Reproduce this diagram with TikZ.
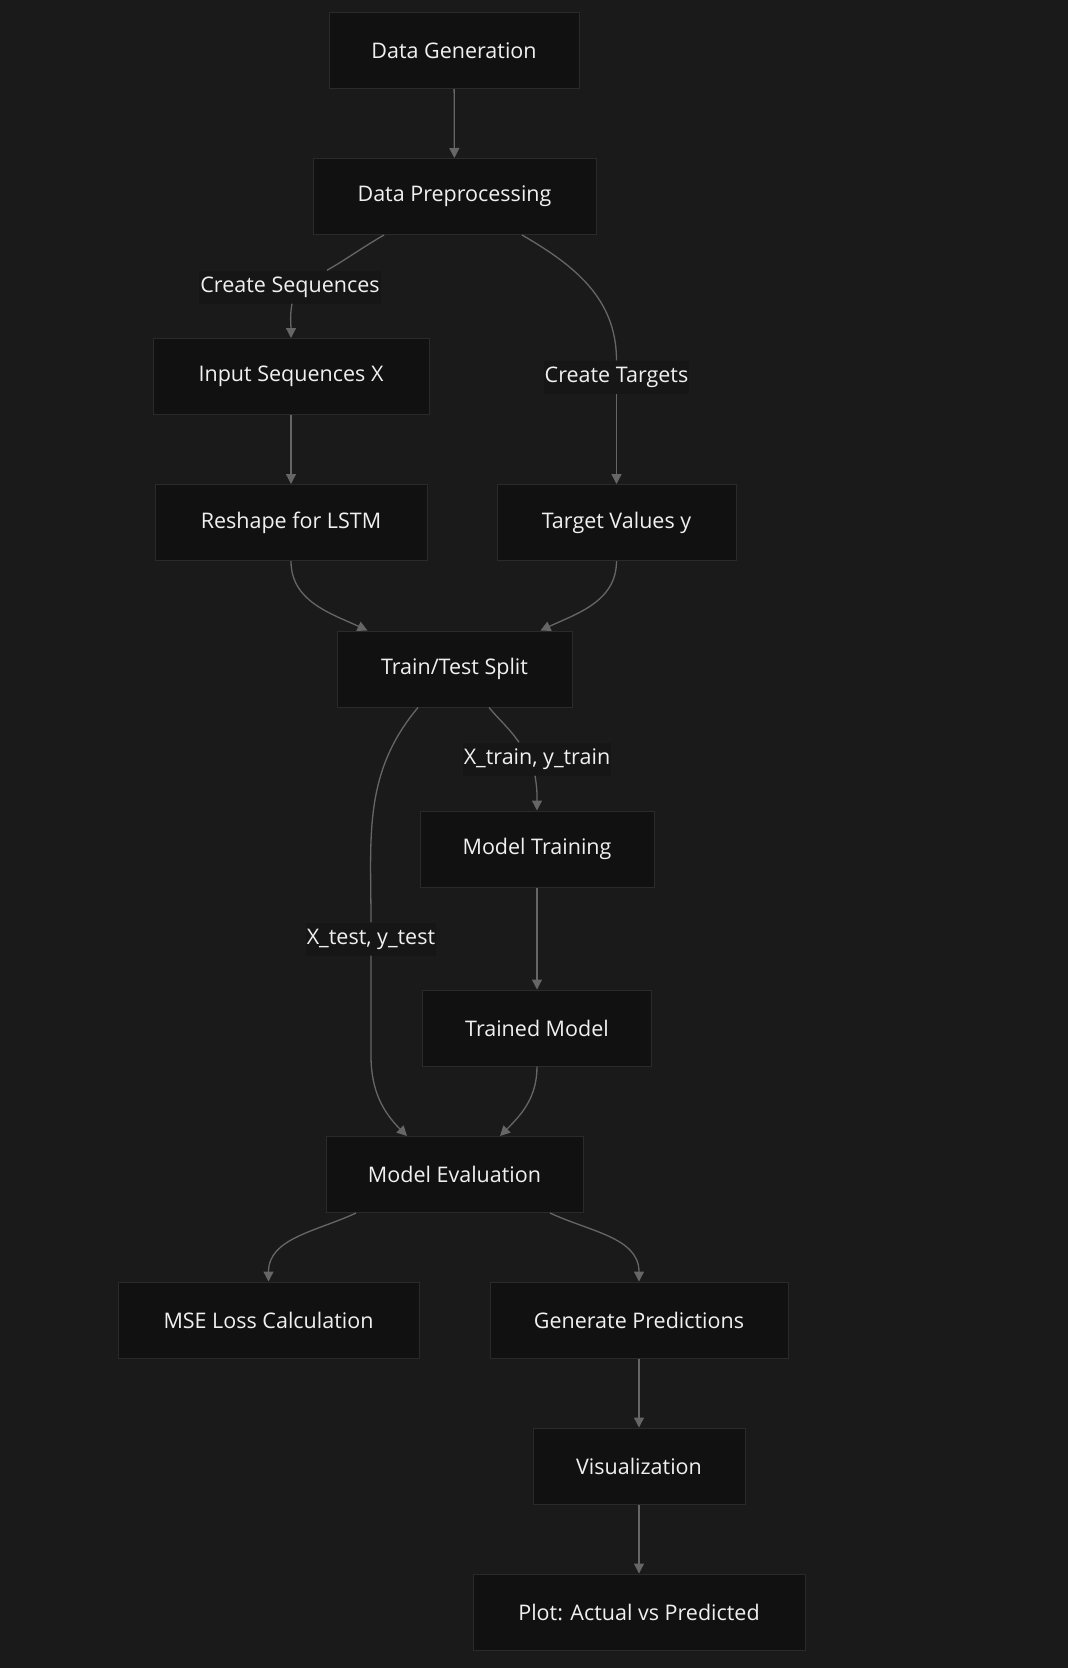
\documentclass[tikz,border=0pt]{standalone}
\usepackage{fontspec}
\setmainfont{Open Sans}
\usetikzlibrary{arrows.meta}

\definecolor{hintergrund}{HTML}{1A1A1A}
\definecolor{kastenfuell}{HTML}{111111}
\definecolor{rahmen}{HTML}{2A2A2A}
\definecolor{linie}{HTML}{666666}
\definecolor{schrift}{HTML}{F0F0F0}
\definecolor{beschrfuell}{HTML}{161616}

\begin{document}
\begin{tikzpicture}[
    x=1pt, y=-1pt,
    kasten/.style={
      rectangle,
      fill=kastenfuell,
      draw=rahmen,
      line width=1pt,
      text=schrift,
      minimum height=76pt,
      font=\fontsize{21.5}{26}\selectfont},
    beschriftung/.style={
      rectangle,
      fill=beschrfuell,
      text=schrift,
      inner xsep=1pt,
      minimum height=33pt,
      font=\fontsize{21.5}{26}\selectfont},
    pfeil/.style={
      draw=linie,
      line width=1.3pt,
      -{Triangle[length=10pt,width=10pt]}},
    linienstueck/.style={
      draw=linie,
      line width=1.3pt}
    ]

  \fill[hintergrund] (0,0) rectangle (1068,1668);
  \useasboundingbox (0,0) rectangle (1068,1668);

  \node at (454,50.5) (knotenGen) [kasten, minimum width=250pt] {Data Generation};
  \node at (454.5,196.5) (knotenPre) [kasten, minimum width=283pt] {Data Preprocessing};

  \node at (291,376.5) (knotenInp) [kasten, minimum width=276pt] {Input Sequences X};
  \node at (291,522.5) (knotenRes) [kasten, minimum width=272pt] {Reshape for LSTM};
  \node at (616.5,522.5) (knotenTgt) [kasten, minimum width=239pt] {Target Values y};

  \node at (454.5,669) (knotenSplit) [kasten, minimum width=235pt] {Train/Test Split};
  \node at (537,849) (knotenTrain) [kasten, minimum width=234pt] {Model Training};
  \node at (537,1028) (knotenTrained) [kasten, minimum width=229pt] {Trained Model};
  \node at (454.5,1174.5) (knotenEval) [kasten, minimum width=257pt] {Model Evaluation};

  \node at (268.5,1320) (knotenMse) [kasten, minimum width=301pt] {MSE Loss Calculation};
  \node at (639,1320) (knotenPred) [kasten, minimum width=298pt] {Generate Predictions};
  \node at (639,1466) (knotenVis) [kasten, minimum width=212pt] {Visualization};
  \node at (639,1612) (knotenPlot) [kasten, minimum width=332pt] {Plot: Actual vs Predicted};

  \node at (290,287) (lblSeq) [beschriftung] {Create Sequences};
  \node at (616.5,377) (lblTgt) [beschriftung] {Create Targets};
  \node at (537,759) (lblTrain) [beschriftung] {X\_train, y\_train};
  \node at (371,939) (lblTest) [beschriftung] {X\_test, y\_test};

  \path [pfeil] (knotenGen) -- (knotenPre);

  \path [linienstueck] ([xshift=-70.5pt]knotenPre.south) to[out=-150,in=30] ([xshift=37pt]lblSeq.north);
  \path [pfeil] ([xshift=2pt]lblSeq.south) to[out=-100,in=90] (knotenInp.north);

  \path [linienstueck] ([xshift=67.5pt]knotenPre.south) to[out=-30,in=90] (lblTgt.north);
  \path [pfeil] (lblTgt) -- (knotenTgt);

  \path [pfeil] (knotenInp) -- (knotenRes);

  \path [pfeil] (knotenRes.south) to[out=-90,in=155] ([xshift=-87pt]knotenSplit.north);
  \path [pfeil] (knotenTgt.south) to[out=-90,in=25] ([xshift=86pt]knotenSplit.north);

  \path [linienstueck] ([xshift=34.5pt]knotenSplit.south) to[out=-50,in=125] ([xshift=-18pt]lblTrain.north);
  \path [pfeil] ([xshift=-2pt]lblTrain.south) to[out=-80,in=90] (knotenTrain.north);

  \path [linienstueck] ([xshift=-36.5pt]knotenSplit.south) to[out=-130,in=90] (lblTest.north);
  \path [pfeil] (lblTest.south) -- ++(0,100) to[out=-90,in=135] ([xshift=-47.5pt]knotenEval.north);

  \path [pfeil] (knotenTrain) -- (knotenTrained);
  \path [pfeil] (knotenTrained.south) to[out=-90,in=45] ([xshift=45.5pt]knotenEval.north);

  \path [pfeil] ([xshift=-98.5pt]knotenEval.south) to[out=-155,in=90] (knotenMse.north);
  \path [pfeil] ([xshift=95.5pt]knotenEval.south) to[out=-25,in=90] (knotenPred.north);

  \path [pfeil] (knotenPred) -- (knotenVis);
  \path [pfeil] (knotenVis) -- (knotenPlot);

\end{tikzpicture}
\end{document}
